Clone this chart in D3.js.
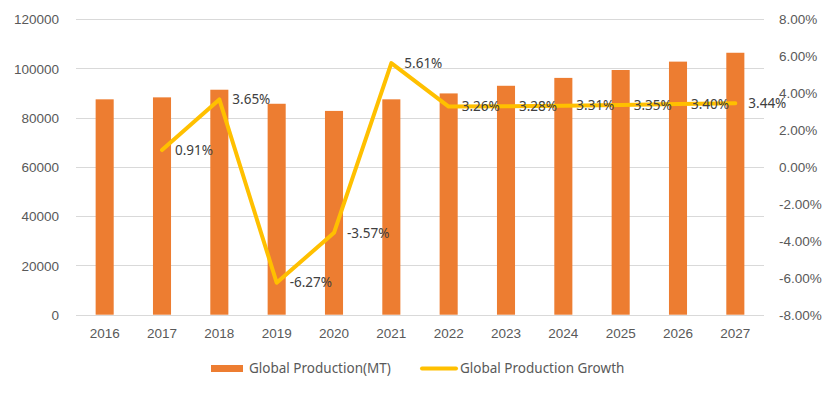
<!DOCTYPE html>
<html>
<head>
<meta charset="utf-8">
<script src="https://cdn.jsdelivr.net/npm/d3@7"></script>
<style>
  html, body { margin: 0; padding: 0; background: #fff; }
  svg { display: block; font-family: "Noto Sans", "Open Sans", sans-serif; }
</style>
</head>
<body>
<div id="chart"></div>
<script>
const years = ["2016", "2017", "2018", "2019", "2020", "2021", "2022", "2023", "2024", "2025", "2026", "2027"]
const production = [87400, 88200, 91300, 85600, 82700, 87400, 89800, 92900, 96100, 99300, 102700, 106300]
const growth = [null, 0.91, 3.65, -6.27, -3.57, 5.61, 3.26, 3.28, 3.31, 3.35, 3.40, 3.44]
const leftTicks = [0, 20000, 40000, 60000, 80000, 100000, 120000]
const rightTicks = [-8, -6, -4, -2, 0, 2, 4, 6, 8]

const width = 833
const height = 394
const plotLeft = 76
const plotRight = 764
const plotTop = 19
const plotBottom = 314.7
const textColor = "#595959"
const barColor = "#ED7D31"
const lineColor = "#FFC000"

const svg = d3.select("#chart")
  .append("svg")
  .attr("width", width)
  .attr("height", height)

const x = d3.scaleBand()
  .domain(years)
  .range([plotLeft, plotRight])
  .paddingInner(0.685)
  .paddingOuter(0.3425)

const yLeft = d3.scaleLinear().domain([0, 120000]).range([plotBottom, plotTop])
const yRight = d3.scaleLinear().domain([-8, 8]).range([plotBottom, plotTop])

// gridlines
svg.append("g")
  .selectAll("line")
  .data(leftTicks)
  .enter()
  .append("line")
  .attr("x1", plotLeft)
  .attr("x2", plotRight)
  .attr("y1", d => Math.round(yLeft(d)) + 0.5)
  .attr("y2", d => Math.round(yLeft(d)) + 0.5)
  .attr("stroke", "#d9d9d9")
  .attr("stroke-width", 1)

// left axis
const leftAxis = svg.append("g")
  .attr("transform", `translate(${plotLeft - 17},0)`)
  .call(d3.axisLeft(yLeft).tickValues(leftTicks).tickSize(0).tickPadding(0).tickFormat(d3.format("d")))
leftAxis.select(".domain").remove()
leftAxis.selectAll("text")
  .attr("fill", textColor)
  .style("font-size", "13.5px")
  .attr("dy", "0.35em")

// right axis
const rightAxis = svg.append("g")
  .attr("transform", `translate(${plotRight + 15},0)`)
  .call(d3.axisRight(yRight).tickValues(rightTicks).tickSize(0).tickPadding(0).tickFormat(d => d.toFixed(2) + "%"))
rightAxis.select(".domain").remove()
rightAxis.selectAll("text")
  .attr("fill", textColor)
  .style("font-size", "13.5px")
  .attr("dy", "0.35em")

// bars
svg.append("g")
  .selectAll("rect")
  .data(years)
  .enter()
  .append("rect")
  .attr("x", d => x(d))
  .attr("width", x.bandwidth())
  .attr("y", (d, i) => yLeft(production[i]))
  .attr("height", (d, i) => yLeft(0) - yLeft(production[i]))
  .attr("fill", barColor)

// x axis labels
const bottomAxis = svg.append("g")
  .attr("transform", `translate(0,${plotBottom + 14})`)
  .call(d3.axisBottom(x).tickSize(0).tickPadding(0))
bottomAxis.select(".domain").remove()
bottomAxis.selectAll("text")
  .attr("fill", textColor)
  .style("font-size", "13.5px")
  .attr("dy", "0.71em")

// growth line
const points = years.map((y, i) => ({ year: y, value: growth[i] })).filter(d => d.value !== null)
const line = d3.line()
  .x(d => x(d.year) + x.bandwidth() / 2)
  .y(d => yRight(d.value))

svg.append("path")
  .datum(points)
  .attr("d", line)
  .attr("fill", "none")
  .attr("stroke", lineColor)
  .attr("stroke-width", 4)
  .attr("stroke-linejoin", "round")
  .attr("stroke-linecap", "round")

// data labels
svg.append("g")
  .selectAll("text")
  .data(points)
  .enter()
  .append("text")
  .attr("x", d => x(d.year) + x.bandwidth() / 2 + 13)
  .attr("y", d => yRight(d.value))
  .attr("dy", "0.35em")
  .attr("fill", "#404040")
  .style("font-size", "13.5px")
  .text(d => d.value.toFixed(2) + "%")

// legend
const legend = svg.append("g")
legend.append("rect")
  .attr("x", 211)
  .attr("y", 365)
  .attr("width", 32)
  .attr("height", 7)
  .attr("fill", barColor)
legend.append("text")
  .attr("x", 249)
  .attr("y", 368.5)
  .attr("dy", "0.35em")
  .attr("fill", textColor)
  .style("font-size", "13.5px")
  .text("Global Production(MT)")
legend.append("line")
  .attr("x1", 422)
  .attr("x2", 456)
  .attr("y1", 368.5)
  .attr("y2", 368.5)
  .attr("stroke", lineColor)
  .attr("stroke-width", 4)
  .attr("stroke-linecap", "round")
legend.append("text")
  .attr("x", 460)
  .attr("y", 368.5)
  .attr("dy", "0.35em")
  .attr("fill", textColor)
  .style("font-size", "13.5px")
  .text("Global Production Growth")
</script>
</body>
</html>
